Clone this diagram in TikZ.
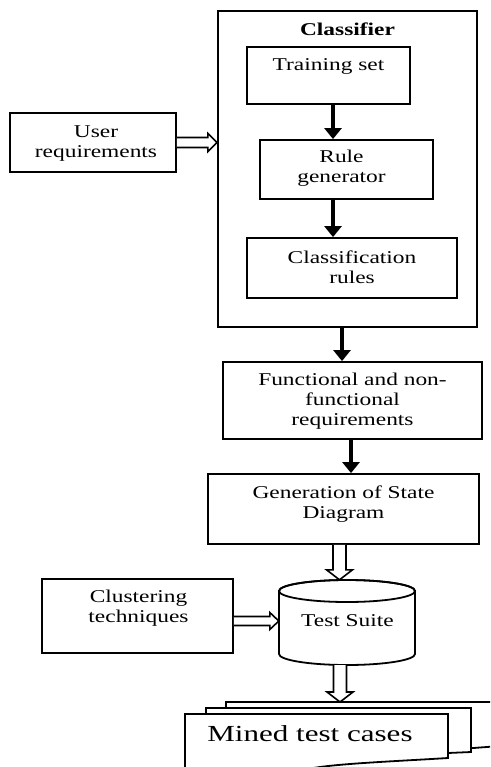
\documentclass[tikz,border=0pt]{standalone}
\usepackage{fontspec}
\setmainfont{Liberation Serif}[FakeStretch=1.3]
\newfontfamily\minedfont{Liberation Serif}[FakeStretch=1.35]
\usetikzlibrary{arrows.meta,calc}
\newcommand\twolines[1]{\begin{tabular}[t]{@{}c@{}}#1\end{tabular}}
\newcommand\hollowarr[5]{%
  \coordinate (hc) at ($(#2)!#5!(#1)$);
  \draw[harrow] ($(#1)!#3!90:(#2)$) -- ($(hc)!#3!90:(#2)$) -- ($(hc)!#4!90:(#2)$) -- (#2)
    -- ($(hc)!#4!-90:(#2)$) -- ($(hc)!#3!-90:(#2)$) -- ($(#1)!#3!-90:(#2)$);
}
\tikzset{
  box/.style={draw, line width=1.8pt, inner sep=0pt},
  txt/.style={anchor=base, inner sep=0pt, font=\fontsize{18}{20}\selectfont},
  sarrow/.style={line width=3.6pt, -{Triangle[width=17pt,length=11pt]}},
  harrow/.style={line width=1.6pt, fill=white, line join=miter},
  doc/.style={draw, line width=1.8pt, fill=white, line join=miter},
}
\begin{document}
\begin{tikzpicture}[x=1pt,y=-1pt]
\useasboundingbox (0,0) rectangle (490,767);
\clip (0,0) rectangle (490,767);
\fill[white] (0,0) rectangle (490,767);

% boxes
\node[box, line width=2.2pt, minimum width=259pt, minimum height=316pt] (cls) at (347.5,169) {};
\node[box, minimum width=163pt, minimum height=57pt] (train) at (328.5,75.5) {};
\node[box, minimum width=173pt, minimum height=59pt] (rule) at (346.5,169.5) {};
\node[box, minimum width=210pt, minimum height=60pt] (crules) at (352,268) {};
\node[box, minimum width=166pt, minimum height=59pt] (user) at (93,142.5) {};
\node[box, minimum width=259pt, minimum height=77pt] (func) at (352.5,400.5) {};
\node[box, minimum width=271pt, minimum height=70pt] (gen) at (343.5,509) {};
\node[box, minimum width=191pt, minimum height=74pt] (clus) at (137.5,616) {};
\node[inner sep=0pt, minimum width=136pt, minimum height=85pt] (ts) at (347,622.5) {};

% cylinder
\draw[line width=1.8pt, fill=white] (279,591) -- (279,654)
  arc[start angle=180, end angle=360, x radius=68pt, y radius=11pt] -- (415,591)
  arc[start angle=0, end angle=180, x radius=68pt, y radius=11pt] -- cycle;
\draw[line width=1.8pt] (347,591) ellipse [x radius=68pt, y radius=11pt];

% texts
\node[txt] (tcls) at (347.5,36) {\bfseries Classifier};
\node[txt] (ttrain) at (328.5,71) {Training set};
\node[txt] (trule) at (341.5,163) {\twolines{Rule\\generator}};
\node[txt] (tcrules) at (352,263) {\twolines{Classification\\rules}};
\node[txt] (tuser) at (96,138) {\twolines{User\\requirements}};
\node[txt] (tfunc) at (352.5,385) {\twolines{Functional and non-\\functional\\requirements}};
\node[txt] (tgen) at (343.5,498) {\twolines{Generation of State\\Diagram}};
\node[txt] (tclus) at (138.5,602) {\twolines{Clustering\\techniques}};
\node[txt] (tts) at (347.5,626) {Test Suite};

% stacked documents
\draw[doc] (226,702) -- (500,702) -- (500,746) -- (460,749) -- (226,749) -- cycle;
\draw[doc] (206,708) -- (471,708) -- (471,752) -- (448,753) -- (206,760) -- cycle;
\draw[doc] (185,714) -- (448,714) -- (448,758)
  .. controls (400,761) and (350,763) .. (320,767)
  .. controls (280,773) and (230,776) .. (185,776) -- cycle;
\coordinate (docs) at (340,702);
\node[anchor=base, inner sep=0pt, font=\minedfont\fontsize{23}{26}\selectfont] (mined) at (310,741) {Mined test cases};

% solid arrows
\coordinate (a1) at ([xshift=4.5pt]train.south);
\draw[sarrow] (a1) -- (a1 |- rule.north);
\coordinate (a2) at ([xshift=-13.5pt]rule.south);
\draw[sarrow] (a2) -- (a2 |- crules.north);
\coordinate (a3) at ([xshift=-5.5pt]cls.south);
\draw[sarrow] (a3) -- (a3 |- func.north);
\coordinate (a4) at ([xshift=-1.5pt]func.south);
\draw[sarrow] (a4) -- (a4 |- gen.north);

% hollow arrows
\coordinate (u1) at (user.east);
\coordinate (u2) at (user.east -| cls.west);
\hollowarr{u1}{u2}{5pt}{9pt}{9pt}
\coordinate (c1) at ([yshift=-5pt]clus.east);
\coordinate (c2) at (c1 -| ts.west);
\hollowarr{c1}{c2}{4.5pt}{8.5pt}{9pt}
\coordinate (g1) at ([xshift=-4pt]gen.south);
\coordinate (g2) at (g1 |- ts.north);
\hollowarr{g1}{g2}{6.5pt}{13pt}{10pt}
\coordinate (t1) at ([xshift=-7pt]ts.south);
\coordinate (t2) at (t1 |- docs);
\hollowarr{t1}{t2}{6.5pt}{13pt}{10pt}
\end{tikzpicture}
\end{document}
